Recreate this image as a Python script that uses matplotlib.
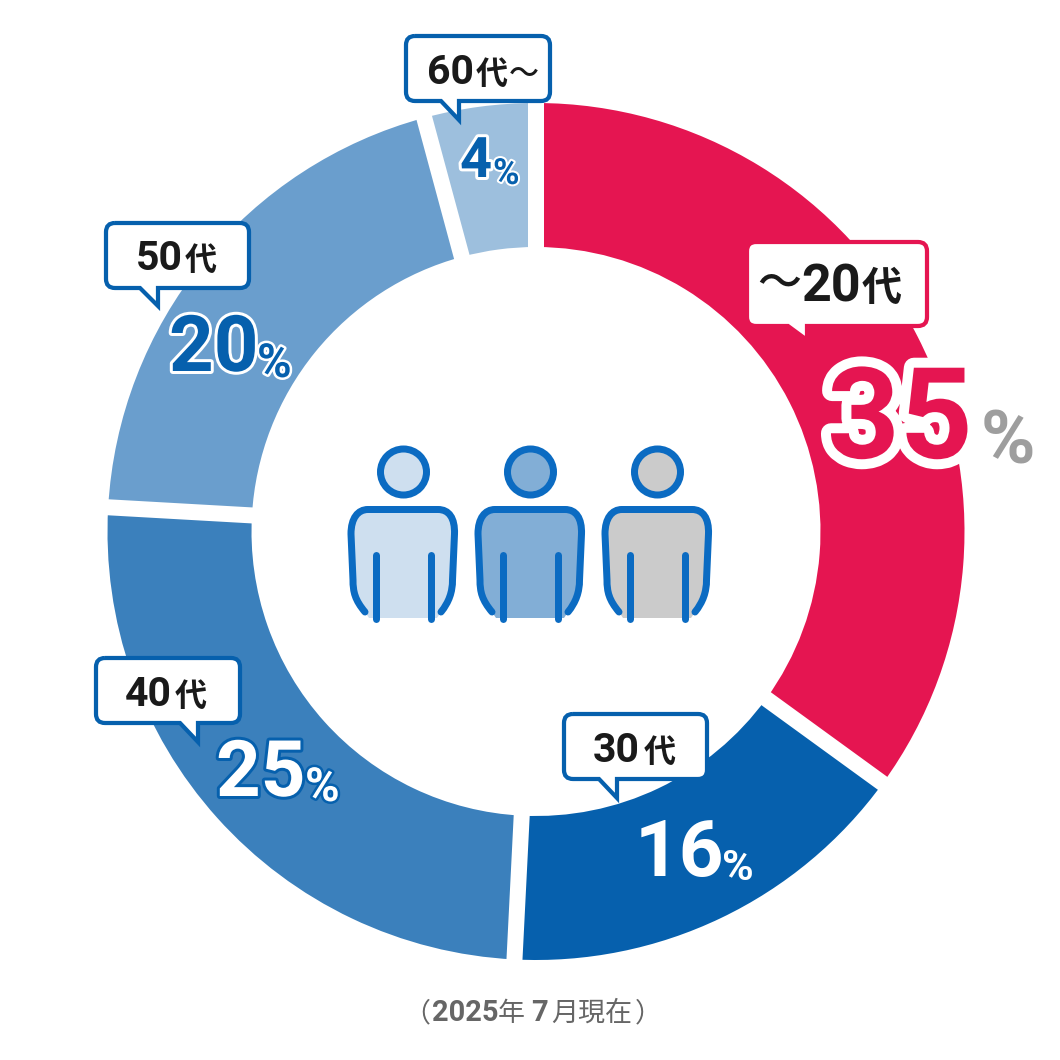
import numpy as np
import matplotlib
matplotlib.use("Agg")
import matplotlib.pyplot as plt
import matplotlib.patheffects as pe
from matplotlib.path import Path
from matplotlib.patches import PathPatch, Circle

# arc shares as drawn in the picture (labels are the rounded ones)
shares = [35, 15.8, 25.1, 19.9, 4.2]
percents = ["35", "16", "25", "20", "4"]
colors = ["#E51551", "#0660AD", "#3B80BC", "#6A9ECD", "#9DBFDD"]
person_fills = ["#CEDFEF", "#82AED6", "#CBCBCB"]
note = "2025年7月現在"

BLUE = "#0660AD"
RED = "#E51551"
LATIN = ["Roboto", "Noto Sans CJK JP"]
CJK = ["Noto Sans CJK JP", "DejaVu Sans"]
PX = 0.72  # px to pt at dpi 100


def Y(py):
    return 1060 - py


fig = plt.figure(figsize=(10.6, 10.6), dpi=100)
ax = fig.add_axes([0, 0, 1, 1])

cx, cy, R, r = 536, 531.5, 428.5, 284.5
ax.pie(shares, colors=colors, startangle=90, counterclock=False, radius=R,
       center=(cx, Y(cy)), wedgeprops=dict(width=R - r, linewidth=0), frame=True)
ax.set_xlim(0, 1060)
ax.set_ylim(0, 1060)
ax.set_aspect("equal")
ax.axis("off")

# white gaps between slices
for c in np.cumsum([0] + shares[:-1]):
    a = np.radians(c * 3.6)
    ax.plot([cx, cx + (R + 6) * np.sin(a)], [Y(cy), Y(cy) + (R + 6) * np.cos(a)],
            color="white", lw=16 * PX, solid_capstyle="butt", zorder=2)


def txt(x, base, s, size, color="#1A1A1A", fam=LATIN, weight="bold", outline=None, olw=0, z=6):
    t = ax.text(x, Y(base), s, fontsize=size * PX, color=color, family=fam, weight=weight,
                ha="left", va="baseline", zorder=z)
    if outline:
        t.set_path_effects([pe.withStroke(linewidth=olw * PX, foreground=outline)])
    return t


def callout(x0, y0, x1, y1, tail_l, tail_tip, edge):
    rad = 9
    tx, ty = tail_tip
    v = [(x0 + rad, y0), (x1 - rad, y0), (x1, y0), (x1, y0 + rad), (x1, y1 - rad), (x1, y1), (x1 - rad, y1),
         (tx, y1), (tx, ty), (tail_l, y1), (x0 + rad, y1), (x0, y1), (x0, y1 - rad), (x0, y0 + rad), (x0, y0), (x0 + rad, y0)]
    codes = [Path.MOVETO, Path.LINETO, Path.CURVE3, Path.CURVE3, Path.LINETO, Path.CURVE3, Path.CURVE3,
             Path.LINETO, Path.LINETO, Path.LINETO, Path.LINETO, Path.CURVE3, Path.CURVE3, Path.LINETO, Path.CURVE3, Path.CURVE3]
    ax.add_patch(PathPatch(Path([(a, Y(b)) for a, b in v], codes), facecolor="white", edgecolor=edge,
                           lw=4.2 * PX, joinstyle="miter", zorder=5))


callout(747, 242, 927, 326, 788, (807, 340), RED)
callout(406, 36, 550, 101, 441, (459, 120), BLUE)
callout(106, 223, 249, 288, 140, (158, 306), BLUE)
callout(96, 658, 240, 723, 180, (198, 742), BLUE)
callout(564, 714, 707, 779, 599, (617, 798), BLUE)

# age labels
txt(757, 297, "〜", 44, fam=CJK, weight="medium")
txt(801, 301, "20", 52)
txt(862, 300, "代", 40, fam=CJK)
txt(427, 84, "60", 41)
txt(476, 84, "代", 32, fam=CJK)
txt(509, 83, "〜", 30, fam=CJK, weight="medium")
txt(136, 270, "50", 41)
txt(185, 270, "代", 32, fam=CJK)
txt(125, 706, "40", 41)
txt(175, 706, "代", 32, fam=CJK)
txt(593, 762, "30", 41)
txt(644, 762, "代", 32, fam=CJK)

# percentages
txt(827, 458, percents[0], 127, color=RED, outline="white", olw=20)
txt(981, 463, "%", 74, color="#9E9E9E", fam=["Roboto"])
txt(635, 876, percents[1], 78, color="white")
txt(722, 880, "%", 43, color="white", fam=["Roboto"])
txt(216, 796, percents[2], 78, color="white", outline=BLUE, olw=6)
txt(305, 801, "%", 47, color="white", fam=["Roboto"], outline=BLUE, olw=5)
txt(169, 371, percents[3], 78, color=BLUE, outline="white", olw=6)
txt(257, 377, "%", 47, color=BLUE, fam=["Roboto"], outline="white", olw=5)
txt(460, 177, percents[4], 56, color=BLUE, outline="white", olw=6)
txt(493, 184, "%", 36, color=BLUE, fam=["Roboto"], outline="white", olw=4)

# footnote
GREY = "#666666"
txt(403, 1021, "（", 27, color=GREY, fam=CJK, weight="regular")
txt(432, 1021, note[:4], 29, color=GREY)
txt(498, 1021, note[4], 27, color=GREY, fam=CJK, weight="regular")
txt(531, 1021, note[5], 29, color=GREY)
txt(551, 1021, note[6:], 27, color=GREY, fam=CJK, weight="regular")
txt(635, 1021, "）", 27, color=GREY, fam=CJK, weight="regular")

# people icons
outline_pts = [(365, 612), (355, 600), (353, 592), (353, 580), (351, 534), (351, 518), (358, 509.5), (368, 509.5),
               (438, 509.5), (449, 509.5), (455, 518), (454.5, 534), (452.5, 580), (452.5, 592), (449, 602), (441, 612)]
outline_codes = [Path.MOVETO, Path.CURVE4, Path.CURVE4, Path.CURVE4, Path.LINETO, Path.CURVE4, Path.CURVE4, Path.CURVE4,
                 Path.LINETO, Path.CURVE4, Path.CURVE4, Path.CURVE4, Path.LINETO, Path.CURVE4, Path.CURVE4, Path.CURVE4]
STROKE = "#0B6BC2"
for i, fill in enumerate(person_fills):
    dx = 127 * i
    pts = [(a + dx, Y(b)) for a, b in outline_pts]
    body = pts + [(437 + dx, Y(618)), (369 + dx, Y(618)), pts[0]]
    ax.add_patch(PathPatch(Path(body, outline_codes + [Path.LINETO, Path.LINETO, Path.CLOSEPOLY]),
                           facecolor=fill, edgecolor="none", zorder=3))
    ax.add_patch(PathPatch(Path(pts, outline_codes), facecolor="none", edgecolor=STROKE,
                           lw=7 * PX, capstyle="round", zorder=4))
    ax.add_patch(Circle((403.5 + dx, Y(472)), 23, facecolor=fill, edgecolor=STROKE, lw=7 * PX, zorder=4))
    for ax_x in (375.5, 431):
        ax.plot([ax_x + dx, ax_x + dx], [Y(555), Y(619)], color=STROKE, lw=7 * PX,
                solid_capstyle="round", zorder=4)

fig.savefig("out.png", dpi=100)
